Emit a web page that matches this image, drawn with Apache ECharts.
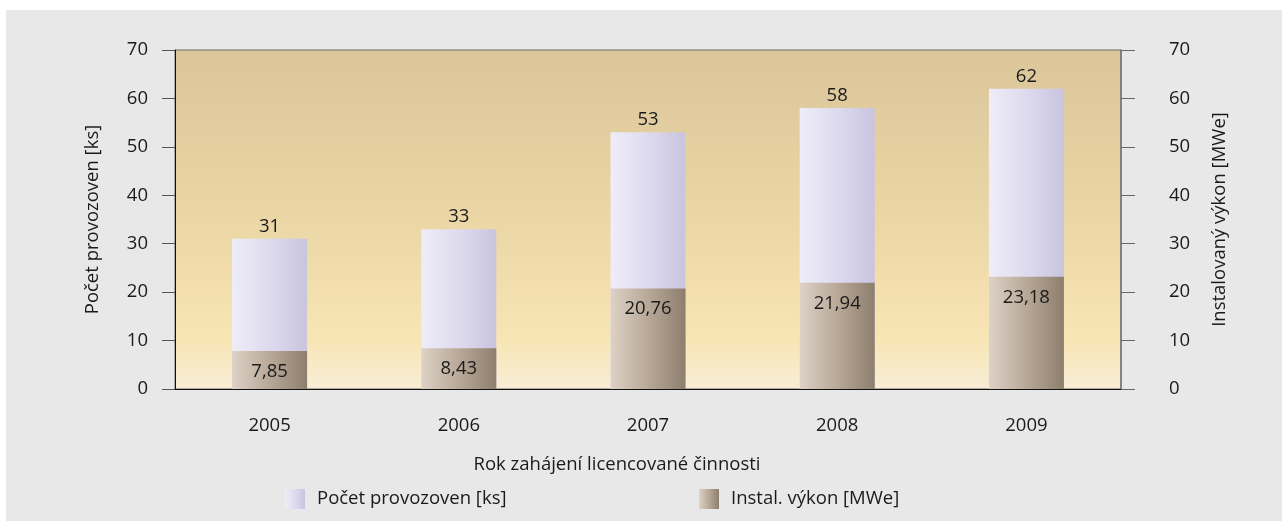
<!DOCTYPE html>
<html>
<head>
<meta charset="utf-8">
<script src="https://cdn.jsdelivr.net/npm/echarts@6/dist/echarts.min.js"></script>
<style>
  html, body { margin: 0; padding: 0; background: #ffffff; }
  #chart { position: absolute; left: 6px; top: 10px; width: 1276px; height: 511px; background: #e8e8e8; }
</style>
</head>
<body>
<div id="chart"></div>
<script>
// Licensed plants by year when licensed operation started
const years = ['2005', '2006', '2007', '2008', '2009'];
const plantCounts = [31, 33, 53, 58, 62];            // Počet provozoven [ks]
const installedPower = [7.85, 8.43, 20.76, 21.94, 23.18]; // Instal. výkon [MWe]
const axisTicks = [0, 10, 20, 30, 40, 50, 60, 70];

const countName = 'Počet provozoven [ks]';
const powerName = 'Instal. výkon [MWe]';

const FONT = 'Open Sans';
const FS = 18.5;
const TEXT = '#1a1a1a';

const chart = echarts.init(document.getElementById('chart'));

const hGrad = (stops) => new echarts.graphic.LinearGradient(0, 0, 1, 0,
  stops.map((c, i) => ({ offset: i / (stops.length - 1), color: c })));

const valueAxisBase = {
  type: 'value',
  min: axisTicks[0],
  max: axisTicks[axisTicks.length - 1],
  interval: axisTicks[1] - axisTicks[0],
  splitLine: { show: false },
  nameLocation: 'middle',
  nameRotate: 90,
  nameTextStyle: { fontFamily: FONT, fontSize: FS, color: TEXT }
};

const legendText = { fontFamily: FONT, fontSize: FS, color: TEXT, padding: [0, 0, 0, 7] };

chart.setOption({
  animation: false,
  textStyle: { fontFamily: FONT, color: TEXT },
  grid: {
    left: 169, right: 161, top: 40, bottom: 132,
    show: true,
    borderColor: '#6a6a6a',
    borderWidth: 1,
    backgroundColor: new echarts.graphic.LinearGradient(0, 0, 0, 1, [
      { offset: 0, color: '#dbc69b' },
      { offset: 0.5, color: '#ebd6a6' },
      { offset: 0.85, color: '#f8e5b4' },
      { offset: 1, color: '#f8eed6' }
    ])
  },
  legend: [
    {
      data: [countName], left: 279, top: 479, padding: 0,
      itemWidth: 20, itemHeight: 20, icon: 'rect',
      textStyle: legendText
    },
    {
      data: [powerName], left: 693, top: 479, padding: 0,
      itemWidth: 20, itemHeight: 20, icon: 'rect',
      textStyle: legendText
    }
  ],
  xAxis: {
    type: 'category',
    data: years,
    axisLine: { lineStyle: { color: '#111', width: 1 } },
    axisTick: { length: 14, lineStyle: { color: '#333' } },
    axisLabel: { margin: 27, fontSize: FS, color: TEXT, fontFamily: FONT },
    name: 'Rok zahájení licencované činnosti',
    nameLocation: 'middle',
    nameGap: 66,
    nameTextStyle: { fontFamily: FONT, fontSize: FS, color: TEXT, padding: [0, 62, 0, 0] }
  },
  yAxis: [
    Object.assign({}, valueAxisBase, {
      position: 'left',
      name: countName,
      nameGap: 73,
      axisLine: { show: true, lineStyle: { color: '#111', width: 1 } },
      axisTick: { show: true, length: 13, lineStyle: { color: '#555' } },
      axisLabel: { margin: 27, fontSize: FS, color: TEXT, fontFamily: FONT }
    }),
    Object.assign({}, valueAxisBase, {
      position: 'right',
      name: 'Instalovaný výkon [MWe]',
      nameGap: 89,
      axisLine: { show: true, lineStyle: { color: '#777', width: 1.5 } },
      axisTick: { show: true, length: 14, lineStyle: { color: '#666' } },
      axisLabel: { margin: 48, fontSize: FS, color: TEXT, fontFamily: FONT }
    })
  ],
  series: [
    {
      name: countName,
      type: 'bar',
      yAxisIndex: 0,
      data: plantCounts,
      barWidth: 75,
      barGap: '-100%',
      itemStyle: { color: hGrad(['#efedf8', '#dedaee', '#c9c4df']) },
      label: {
        show: true, position: 'top', distance: 3,
        fontFamily: FONT, fontSize: FS, color: TEXT
      },
      z: 2
    },
    {
      name: powerName,
      type: 'bar',
      yAxisIndex: 1,
      data: installedPower,
      barWidth: 75,
      barGap: '-100%',
      itemStyle: { color: hGrad(['#ddd2c6', '#b8a898', '#8e7e6d']) },
      label: {
        show: true, position: 'insideTop', distance: 11,
        fontFamily: FONT, fontSize: FS, color: TEXT,
        formatter: (p) => p.value.toFixed(2).replace('.', ',')
      },
      z: 3
    }
  ]
});
</script>
</body>
</html>
